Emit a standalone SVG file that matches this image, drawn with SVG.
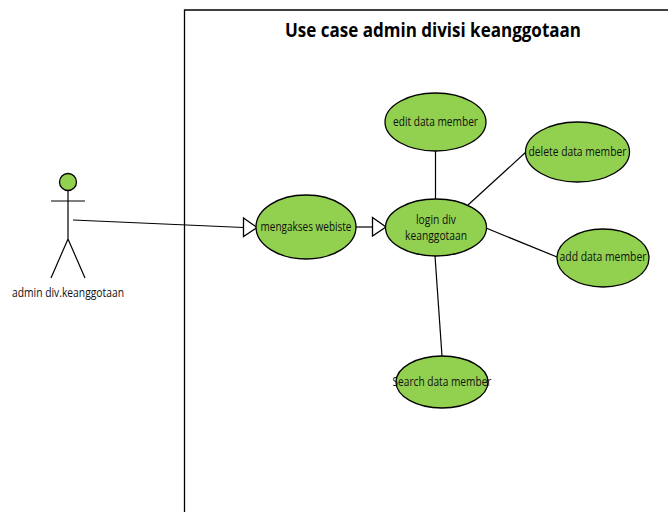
<svg xmlns="http://www.w3.org/2000/svg" width="668" height="512" viewBox="0 0 668 512">
<style>
.u{fill:#92d050;stroke:#000;stroke-width:1.3}
.l{fill:none;stroke:#000;stroke-width:1.2}
.h{fill:#fff;stroke:#000;stroke-width:1.3}
text{font-family:"Open Sans","Noto Sans",sans-serif;font-size:12px;fill:#111;text-anchor:middle}
.t{font-size:19.500px;font-weight:700;fill:#000}
</style>
<rect width="668" height="512" fill="#fff"/>
<g id="boundary"><path d="M184.500 512V10H668" fill="none" stroke="#000" stroke-width="1.3"/>
<text class="t" x="433" y="37" textLength="296" lengthAdjust="spacingAndGlyphs">Use case admin divisi keanggotaan</text></g>
<g id="connectors">
<path class="l" d="M73 220L243.500 227.500"/>
<path class="h" d="M243.500 218V236.500L257 227.500Z"/>
<path class="l" d="M356 227H372"/>
<path class="h" d="M372.500 217.500V236L386 227Z"/>
<path class="l" d="M435.500 151V199"/>
<path class="l" d="M526 152L468 205"/>
<path class="l" d="M486 228L557 257"/>
<path class="l" d="M435 256L442 356"/>
</g>
<g id="actor">
<circle class="u" cx="68" cy="182" r="8.500"/>
<path class="l" d="M68 191V239M51 201H85M51 278L68 239L85 278"/>
<text x="68" y="297" textLength="112" lengthAdjust="spacingAndGlyphs">admin div.keanggotaan</text>
</g>
<g id="mengakses"><ellipse class="u" cx="306" cy="227" rx="50" ry="32"/><text x="306" y="231" textLength="91" lengthAdjust="spacingAndGlyphs">mengakses webiste</text></g>
<g id="login"><ellipse class="u" cx="436" cy="227.500" rx="50.500" ry="28.500"/><text x="436" y="224" textLength="40" lengthAdjust="spacingAndGlyphs">login div</text><text x="436" y="240" textLength="62" lengthAdjust="spacingAndGlyphs">keanggotaan</text></g>
<g id="edit"><ellipse class="u" cx="435.500" cy="122" rx="50.500" ry="29"/><text x="435.500" y="126" textLength="85" lengthAdjust="spacingAndGlyphs">edit data member</text></g>
<g id="delete"><ellipse class="u" cx="577.500" cy="152" rx="52" ry="30"/><text x="577.500" y="156" textLength="98" lengthAdjust="spacingAndGlyphs">delete data member</text></g>
<g id="add"><ellipse class="u" cx="603" cy="258" rx="46" ry="29"/><text x="603" y="261" textLength="87" lengthAdjust="spacingAndGlyphs">add data member</text></g>
<g id="search"><ellipse class="u" cx="442" cy="382" rx="46" ry="26"/><text x="442" y="386" textLength="99" lengthAdjust="spacingAndGlyphs">Search data member</text></g>
</svg>
